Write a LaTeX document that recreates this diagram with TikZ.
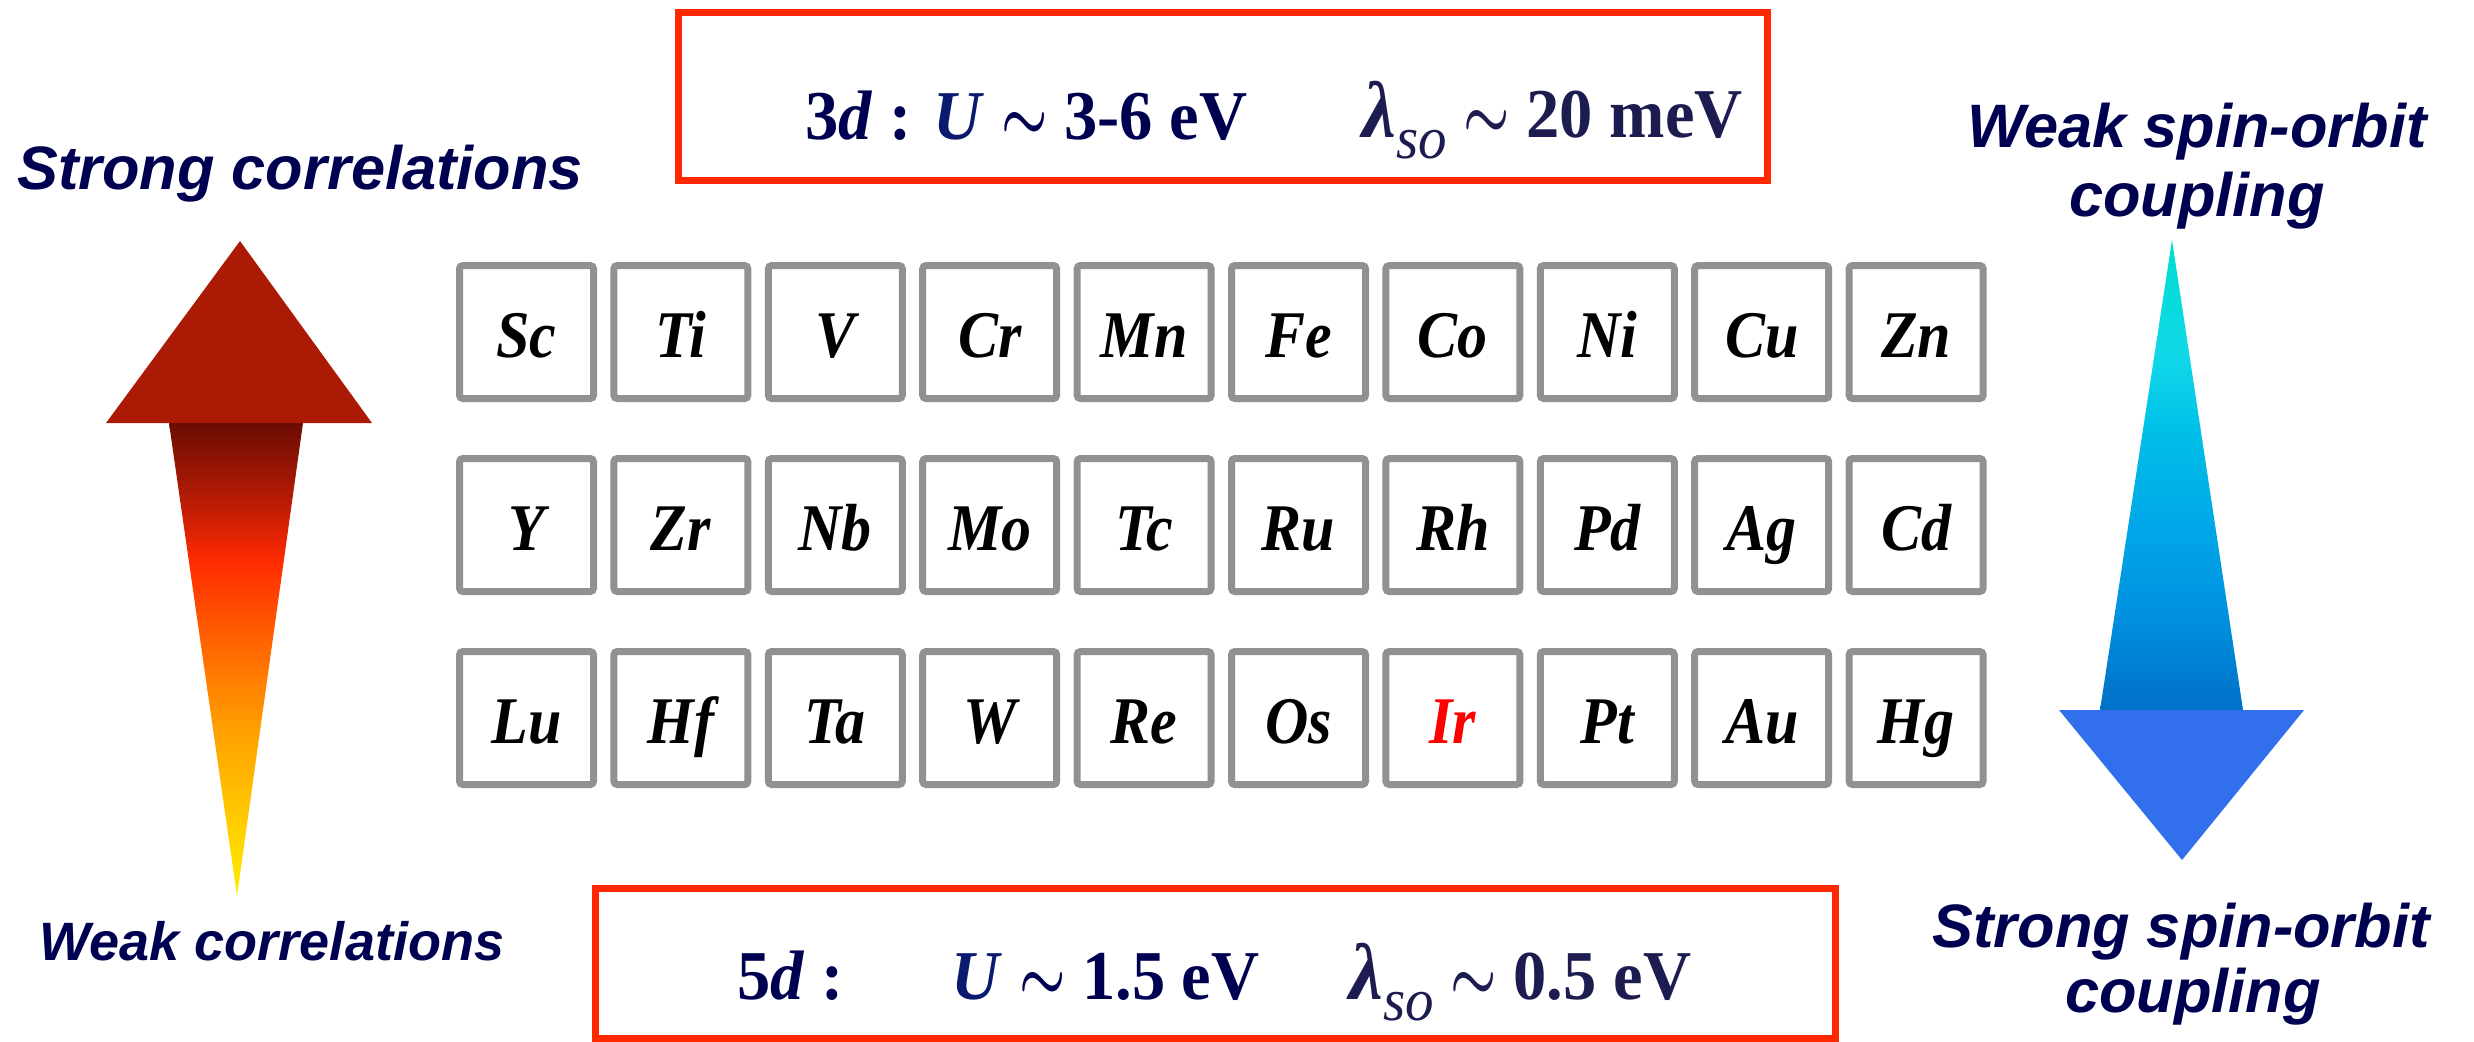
\documentclass[tikz,border=0pt]{standalone}
\usepackage{amsmath}
\usepackage{fontspec}
\setmainfont{Liberation Serif}
\setsansfont{Liberation Sans}
\newfontfamily\elfont[FakeStretch=0.9]{Liberation Serif}
\newfontfamily\bxfont[FakeStretch=0.95]{Liberation Serif}
\definecolor{navy}{RGB}{0,0,80}
\definecolor{ublue}{RGB}{10,26,110}
\definecolor{lamc}{RGB}{28,28,80}
\definecolor{boxred}{RGB}{255,40,0}
\definecolor{elgray}{RGB}{145,145,145}
\definecolor{lhead}{RGB}{170,26,5}
\definecolor{rhead}{RGB}{49,111,236}
\definecolor{ls1}{RGB}{255,238,0}
\definecolor{ls2}{RGB}{255,205,0}
\definecolor{ls3}{RGB}{255,160,0}
\definecolor{ls4}{RGB}{255,112,0}
\definecolor{ls5}{RGB}{255,42,0}
\definecolor{ls6}{RGB}{176,26,5}
\definecolor{ls7}{RGB}{107,12,2}
\definecolor{rs1}{RGB}{0,221,208}
\definecolor{rs2}{RGB}{16,216,232}
\definecolor{rs3}{RGB}{0,192,232}
\definecolor{rs4}{RGB}{0,168,232}
\definecolor{rs5}{RGB}{0,144,224}
\definecolor{rs6}{RGB}{0,112,200}
\pgfdeclareverticalshading{corrshade}{100bp}{color(0bp)=(ls1); color(25bp)=(ls1); color(32.5bp)=(ls2); color(42.5bp)=(ls3); color(50bp)=(ls4); color(60.5bp)=(ls5); color(67.5bp)=(ls6); color(75bp)=(ls7); color(100bp)=(ls7)}
\pgfdeclareverticalshading{soshade}{100bp}{color(0bp)=(rs6); color(25bp)=(rs6); color(35bp)=(rs5); color(45bp)=(rs4); color(55bp)=(rs3); color(62.5bp)=(rs2); color(75bp)=(rs1); color(100bp)=(rs1)}
\tikzset{
  elbox/.style={draw=elgray, line width=2.1pt, rounded corners=1pt, minimum width=40.2pt, minimum height=39.9pt, inner sep=0pt, text height=17pt, text depth=2pt, font=\elfont\bfseries\itshape\fontsize{20}{20}\selectfont},
  redbox/.style={draw=boxred, line width=2.1pt, inner sep=0pt},
  boxtxt/.style={inner sep=0pt, text=navy, font=\bxfont\bfseries\fontsize{21}{21}\selectfont},
  sidelbl/.style={inner sep=0pt, text=navy, font=\sffamily\bfseries\itshape\fontsize{18.4}{18.4}\selectfont},
  smalllbl/.style={inner sep=0pt, text=navy, font=\sffamily\bfseries\itshape\fontsize{16.2}{16.2}\selectfont}
}
\newcommand{\lamso}{{\fontsize{24}{24}\selectfont\itshape λ}\raisebox{-6.5pt}{\fontsize{18}{18}\selectfont\mdseries\itshape so}}
\newcommand{\tld}{\scalebox{0.75}[1]{$\boldsymbol{\sim}$}}
\begin{document}
\begin{tikzpicture}[x=0.3pt,y=-0.3pt]
\useasboundingbox (0,0) rectangle (2474,1041);
% red boxes
\node[redbox, minimum width=326.7pt, minimum height=50.4pt] (top) at (1222.5,96) {};
\node[redbox, minimum width=372pt, minimum height=45pt] (bot) at (1215,963) {};
% box texts
\node[boxtxt, anchor=base west] (t3d) at (805,139) {3\textit{d} : \textcolor{ublue}{\textit{U}} \tld\ 3-6 eV};
\node[boxtxt, anchor=base west, text=lamc] (tlam) at (1362,137) {\lamso\ \tld\ 20 meV};
\node[boxtxt, anchor=base west] (b5d) at (737,999) {5\textit{d} :};
\node[boxtxt, anchor=base west] (bU) at (951,999) {\textcolor{ublue}{\textit{U}} \tld\ 1.5 eV};
\node[boxtxt, anchor=base west, text=lamc] (blam) at (1349,999) {\lamso\ \tld\ 0.5 eV};
% element grid
\foreach \sym [count=\i from 0] in {Sc,Ti,V,Cr,Mn,Fe,Co,Ni,Cu,Zn}
  \node[elbox] (r1-\i) at ({526.5+154.4*\i},332) {\sym};
\foreach \sym [count=\i from 0] in {Y,Zr,Nb,Mo,Tc,Ru,Rh,Pd,Ag,Cd}
  \node[elbox] (r2-\i) at ({526.5+154.4*\i},525) {\sym};
\foreach \sym/\col [count=\i from 0] in {Lu/black,Hf/black,Ta/black,W/black,Re/black,Os/black,Ir/red,Pt/black,Au/black,Hg/black}
  \node[elbox, text=\col] (r3-\i) at ({526.5+154.4*\i},718) {\sym};
% left arrow
\shade[shading=corrshade] (169,423) -- (303,423) -- (237,896) -- cycle;
\fill[lhead] (106,423) -- (240,241) -- (372,423) -- cycle;
% right arrow
\shade[shading=soshade] (2100,710) -- (2172,240) -- (2243,710) -- cycle;
\fill[rhead] (2059,710) -- (2304,710) -- (2182,860) -- cycle;
% labels
\node[sidelbl, anchor=base] (sc) at (300,189) {Strong correlations};
\node[smalllbl, anchor=base] (wc) at (272,960) {Weak correlations};
\node[sidelbl, anchor=base] (wso1) at (2197,147) {Weak spin-orbit};
\node[sidelbl, anchor=base] (wso2) at (2197,216) {coupling};
\node[sidelbl, anchor=base] (sso1) at (2181,947) {Strong spin-orbit};
\node[sidelbl, anchor=base] (sso2) at (2193,1012) {coupling};
\end{tikzpicture}
\end{document}
